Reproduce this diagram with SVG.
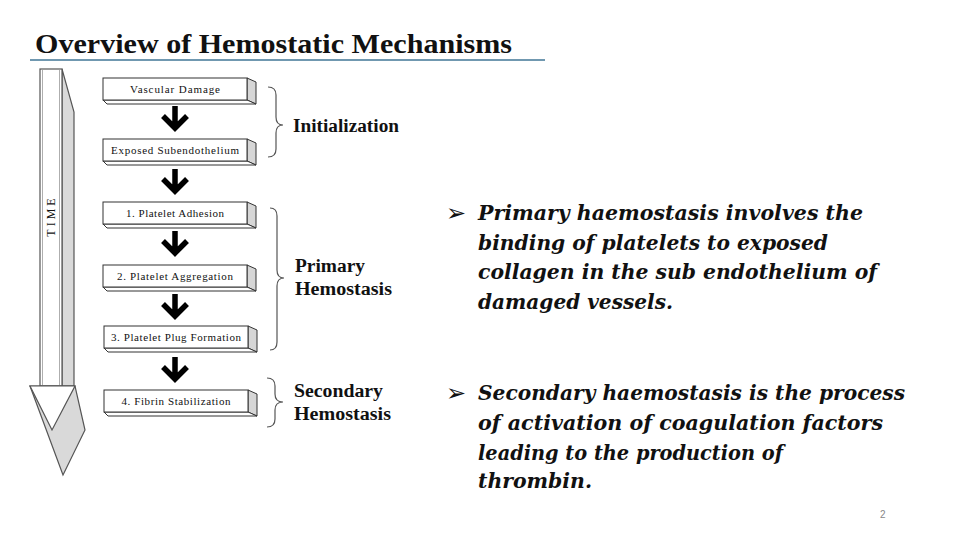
<svg xmlns="http://www.w3.org/2000/svg" xmlns:xlink="http://www.w3.org/1999/xlink" width="960" height="540" viewBox="0 0 960 540">
<style>
.bx{fill:#fff;stroke:#333;stroke-width:1}
.side{fill:#d6d6d6;stroke:#333;stroke-width:1}
.bt{font-family:"Liberation Serif",serif;font-size:11px;fill:#111;text-anchor:middle}
.lbl{font-family:"Liberation Serif",serif;font-weight:bold;font-size:18px;fill:#111}
.brace{fill:none;stroke:#555;stroke-width:1.2}
.arr{fill:none;stroke:#000;stroke-width:5.5;stroke-linejoin:miter}
.bul{font-family:"DejaVu Serif",serif;font-weight:bold;font-style:italic;font-size:20px;fill:#111}
.mark{font-family:"DejaVu Sans",sans-serif;font-size:24px;fill:#111}
.time{fill:#d9d9d9;stroke:#555;stroke-width:1.2}
</style>
<defs>
<g id="box3d">
<polygon class="side" points="144,0 153,4 153,26 144,22"/>
<polygon class="bx" points="0,22 144,22 153,26 4,26"/>
<rect class="bx" x="0" y="0" width="144" height="22"/>
</g>
<path id="darr" class="arr" d="M0,0 V22 M-12,10 L0,22 L12,10"/>
</defs>
<rect width="960" height="540" fill="#fff"/>

<g id="title">
<text x="35" y="53" font-family="Liberation Serif,serif" font-weight="bold" font-size="27" fill="#111" textLength="477" lengthAdjust="spacingAndGlyphs">Overview of Hemostatic Mechanisms</text>
<line x1="30" y1="60" x2="545" y2="60" stroke="#7098b0" stroke-width="2"/>
</g>

<g id="time-arrow">
<polygon class="time" points="62,69 74,112 74,386 62,386"/>
<rect x="40" y="69" width="22" height="317" fill="#fff" stroke="#555" stroke-width="1.2"/>
<line x1="42.5" y1="70" x2="42.5" y2="385" stroke="#999" stroke-width="0.8"/>
<line x1="59.5" y1="70" x2="59.5" y2="385" stroke="#999" stroke-width="0.8"/>
<polygon class="time" points="30,386 75,386 85,430 63,475"/>
<polygon points="30,386 75,386 52,430" fill="#fff" stroke="#555" stroke-width="1.2"/>
<text transform="translate(55,216) rotate(-90)" font-family="Liberation Serif,serif" font-size="12" fill="#111" text-anchor="middle" letter-spacing="3">TIME</text>
</g>

<g id="n1"><use xlink:href="#box3d" x="103" y="78"/><text class="bt" x="175" y="93" textLength="90">Vascular Damage</text></g>
<g id="n2"><use xlink:href="#box3d" x="103" y="139"/><text class="bt" x="175" y="154" textLength="128">Exposed Subendothelium</text></g>
<g id="n3"><use xlink:href="#box3d" x="103" y="202"/><text class="bt" x="175" y="217" textLength="98">1. Platelet Adhesion</text></g>
<g id="n4"><use xlink:href="#box3d" x="103" y="265"/><text class="bt" x="175" y="280" textLength="116">2. Platelet Aggregation</text></g>
<g id="n5"><use xlink:href="#box3d" x="104" y="326"/><text class="bt" x="176" y="341" textLength="130">3. Platelet Plug Formation</text></g>
<g id="n6"><use xlink:href="#box3d" x="104" y="390"/><text class="bt" x="176" y="405" textLength="109">4. Fibrin Stabilization</text></g>

<g id="connectors">
<use xlink:href="#darr" x="175" y="106"/>
<use xlink:href="#darr" x="175" y="169"/>
<use xlink:href="#darr" x="175" y="231"/>
<use xlink:href="#darr" x="175" y="294"/>
<use xlink:href="#darr" x="175" y="357"/>
</g>

<g id="initialization">
<path class="brace" d="M268,87 Q276,87 276,95 L276,117 Q276,125 283,125 Q276,125 276,133 L276,149 Q276,157 268,157"/>
<text class="lbl" x="293" y="132" textLength="106" lengthAdjust="spacingAndGlyphs">Initialization</text>
</g>
<g id="primary">
<path class="brace" d="M270,208 Q277,208 277,216 L277,270 Q277,278 284,278 Q277,278 277,286 L277,342 Q277,350 270,350"/>
<text class="lbl" x="295" y="272" textLength="70" lengthAdjust="spacingAndGlyphs">Primary</text>
<text class="lbl" x="295" y="295" textLength="97" lengthAdjust="spacingAndGlyphs">Hemostasis</text>
</g>
<g id="secondary">
<path class="brace" d="M267,378 Q275,378 275,386 L275,394 Q275,402 283,402 Q275,402 275,410 L275,419 Q275,427 267,427"/>
<text class="lbl" x="294" y="397" textLength="89" lengthAdjust="spacingAndGlyphs">Secondary</text>
<text class="lbl" x="294" y="420" textLength="97" lengthAdjust="spacingAndGlyphs">Hemostasis</text>
</g>

<g id="bullet1">
<text class="mark" x="446" y="221">➢</text>
<text class="bul" x="478" y="220" textLength="385" lengthAdjust="spacingAndGlyphs">Primary haemostasis involves the</text>
<text class="bul" x="478" y="249.5" textLength="350" lengthAdjust="spacingAndGlyphs">binding of platelets to exposed</text>
<text class="bul" x="478" y="279" textLength="399" lengthAdjust="spacingAndGlyphs">collagen in the sub endothelium of</text>
<text class="bul" x="478" y="308.5" textLength="195" lengthAdjust="spacingAndGlyphs">damaged vessels.</text>
</g>
<g id="bullet2">
<text class="mark" x="446" y="401">➢</text>
<text class="bul" x="478" y="400" textLength="427" lengthAdjust="spacingAndGlyphs">Secondary haemostasis is the process</text>
<text class="bul" x="478" y="430" textLength="405" lengthAdjust="spacingAndGlyphs">of activation of coagulation factors</text>
<text class="bul" x="478" y="460" textLength="305" lengthAdjust="spacingAndGlyphs">leading to the production of</text>
<text class="bul" x="478" y="488" textLength="114" lengthAdjust="spacingAndGlyphs">thrombin.</text>
</g>
<text x="880" y="518" font-family="Liberation Sans,sans-serif" font-size="10" fill="#888">2</text>
</svg>
